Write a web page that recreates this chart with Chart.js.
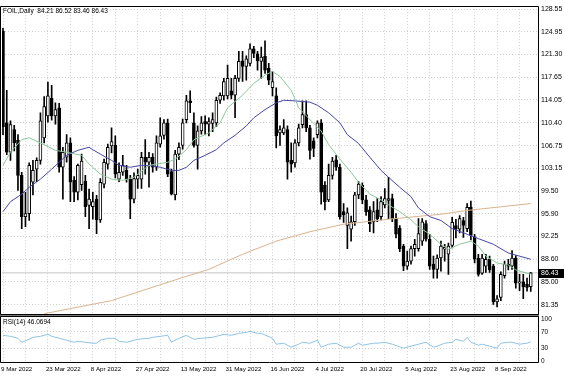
<!DOCTYPE html>
<html><head><meta charset="utf-8">
<script src="https://cdn.jsdelivr.net/npm/chart.js@4.4.1/dist/chart.umd.min.js"></script>
<style>html,body{margin:0;padding:0;background:#fff;overflow:hidden}canvas{display:block}</style>
</head><body>
<canvas id="c" width="564" height="376"></canvas>
<script>
const symbol = 'FOIL,Daily';
const opens = [125.0,110.4,105.7,109.3,107.6,102.0,95.4,95.9,100.9,103.0,104.4,108.0,111.5,114.3,111.5,112.8,103.3,104.9,107.2,101.2,
99.3,100.5,101.1,97.2,97.0,98.2,94.9,100.6,103.8,106.7,106.8,101.4,102.5,102.8,101.4,98.2,101.4,101.4,104.9,104.1,
104.9,103.3,107.0,108.4,110.4,102.6,98.9,105.4,106.8,110.9,113.9,110.4,106.8,109.1,110.6,110.2,110.3,110.4,114.0,114.7,
114.7,115.5,114.8,117.5,120.3,119.4,119.9,122.2,121.4,120.2,121.0,119.1,116.0,114.7,108.8,108.8,109.3,104.4,104.0,107.2,
110.1,111.7,109.6,107.5,108.5,110.4,100.4,98.1,102.0,104.5,103.3,96.2,94.0,93.4,94.6,98.9,100.4,98.1,96.5,94.6,
96.5,95.4,97.3,98.0,98.3,95.1,93.6,90.7,87.5,88.3,90.3,90.3,91.5,94.3,91.8,87.8,87.0,88.8,90.2,89.4,
90.8,94.0,93.4,94.8,93.5,96.9,92.2,88.8,86.4,87.5,88.6,87.5,81.8,82.5,86.0,87.8,87.5,88.8,84.8,85.0,
84.6,84.21];
const highs = [125.5,115.6,110.7,110.0,108.5,102.5,99.3,104.0,104.4,104.8,112.0,114.6,116.9,116.4,113.6,113.5,106.5,108.5,108.0,101.8,
103.8,105.4,102.0,99.8,99.3,98.8,101.5,104.6,107.0,109.6,108.3,104.0,105.2,103.6,102.0,102.4,103.0,105.7,107.7,105.7,
105.5,108.3,111.2,110.9,111.0,103.0,106.0,107.2,111.0,114.8,115.5,112.0,109.9,111.4,111.5,111.2,112.0,114.5,115.2,117.5,
119.6,117.5,118.0,121.8,121.8,121.1,123.0,122.6,121.8,122.5,123.5,119.9,118.6,116.0,109.9,110.9,109.9,107.2,107.7,110.2,
113.9,113.9,110.0,108.0,110.7,110.9,101.0,103.8,104.9,105.2,103.8,97.5,96.8,95.5,99.3,101.0,100.8,98.8,97.0,97.8,
98.3,98.6,99.9,101.7,99.0,95.9,94.0,91.0,89.9,90.7,91.8,95.1,95.1,94.8,92.6,89.1,89.3,91.5,91.0,91.2,
95.3,95.0,95.6,95.3,97.5,97.9,92.6,89.4,89.4,89.4,89.1,87.8,82.8,86.6,88.3,88.6,90.0,89.2,86.2,86.2,
85.6,86.52];
const lows = [108.5,105.3,104.4,105.9,99.6,93.5,93.8,94.8,98.9,101.0,103.8,107.2,110.5,110.8,110.2,102.5,98.2,104.1,97.8,97.8,
98.1,99.6,95.4,93.5,95.0,92.7,94.5,100.0,103.0,105.6,101.6,101.0,102.0,100.9,95.1,97.6,99.9,99.9,102.2,100.1,
102.5,102.8,106.5,107.8,101.8,98.9,98.1,104.5,106.2,110.4,112.0,106.5,103.0,108.6,108.5,108.3,109.0,109.8,113.5,114.0,
114.2,114.2,111.2,117.0,117.0,117.2,119.5,120.8,118.8,117.5,118.3,116.5,114.7,106.4,106.8,108.5,101.4,102.5,103.3,106.7,
109.6,109.0,104.6,105.0,108.0,97.4,96.5,97.8,101.4,102.8,95.0,94.5,90.3,91.5,94.0,98.3,97.5,95.6,93.0,92.8,
94.6,94.9,96.8,95.1,94.6,92.0,89.8,86.8,87.0,87.8,89.1,89.9,90.8,91.5,87.0,85.6,85.6,86.7,88.3,86.2,
90.4,92.0,92.8,92.1,93.0,91.7,88.0,85.9,86.2,86.5,86.5,81.4,81.0,82.0,85.6,86.9,87.0,84.0,83.6,82.3,
83.5,83.46];
const closes = [109.8,105.7,110.1,107.2,102.0,95.4,95.9,103.6,102.8,104.4,110.7,113.0,114.7,111.5,112.5,103.3,105.7,107.2,100.9,99.3,
103.6,104.3,97.0,98.2,97.8,94.9,100.9,104.1,106.5,107.4,102.2,102.5,103.6,101.4,98.2,101.5,102.0,104.9,104.1,104.9,
103.3,107.2,108.3,110.4,102.2,99.0,105.4,106.5,110.4,113.9,113.6,106.8,109.1,110.4,110.2,110.6,110.9,114.0,114.8,117.0,
117.5,114.8,117.5,120.2,119.4,120.6,122.2,121.5,120.3,120.9,118.8,117.2,117.0,108.3,109.3,109.6,104.1,103.8,107.2,109.6,
111.7,109.6,106.0,106.3,110.4,99.3,97.8,102.0,104.3,103.3,95.4,95.7,96.0,94.6,98.9,100.6,98.1,96.2,94.3,96.2,
95.1,97.8,98.3,98.3,95.1,92.6,90.3,87.5,88.3,90.3,91.0,92.7,94.6,91.8,87.5,87.0,88.8,90.7,90.5,90.7,
94.5,93.4,95.1,94.0,96.9,92.4,88.6,86.2,88.8,88.6,86.9,81.8,82.3,86.2,87.8,87.5,88.8,84.8,85.0,84.2,
84.1,86.43];

const dateLabels = ['9 Mar 2022','23 Mar 2022','8 Apr 2022','27 Apr 2022','13 May 2022','31 May 2022','16 Jun 2022','4 Jul 2022','20 Jul 2022','5 Aug 2022','23 Aug 2022','8 Sep 2022'];
const dateLabelBars = [0,12,24,36,48,60,72,84,96,108,120,132];
const gridBars = [0,6,12,18,24,30,36,42,48,54,60,66,72,78,84,90,96,102,108,114,120,126,132,138];
const priceTicks = [128.55,124.95,121.30,117.65,114.05,110.40,106.75,103.15,99.50,95.90,92.25,88.60,85.00,81.35];
const rsiTicks = [100,70,30,0];

const maFastBars = [0,2,5,7,11,14,17,21,23,26,29,32,35,39,41,44,46,49,51,55,58,60,64,67,70,72,74,77,79,82,85,87,90,93,95,98,101,103,106,109,111,114,117,119,122,125,127,129,132,135,137,141];
const maFastValues = [103.6,105.7,107.7,108.0,106.9,106.0,105.7,105.2,103.8,102.2,101.4,101.2,101.7,103.6,103.8,104.1,104.6,106.1,107.7,108.8,110.4,112.8,114.8,116.7,118.0,118.6,117.8,115.6,112.8,110.9,109.1,106.9,104.6,102.5,100.9,99.0,98.1,97.3,96.2,94.9,93.8,92.6,91.0,90.2,91.0,91.5,90.7,89.1,88.0,87.7,86.9,86.2];
const maMidBars = [0,2,5,7,10,13,15,17,20,23,24,26,29,31,34,37,39,42,45,47,49,51,54,57,59,62,65,67,70,73,75,78,82,84,87,90,92,95,98,101,103,106,109,111,114,117,120,124,127,131,135,138,141];
const maMidValues = [96.2,97.8,99.0,100.1,101.4,103.0,104.1,105.2,106.0,106.5,106.1,105.4,104.4,103.6,103.3,103.6,103.6,103.3,102.8,102.8,103.3,104.4,105.2,106.1,107.2,108.4,109.9,111.2,112.5,113.6,114.0,113.9,113.7,113.2,112.0,110.4,108.5,107.1,104.9,102.8,101.7,100.1,98.6,96.8,95.4,94.8,93.5,92.6,91.9,91.0,89.6,89.1,88.6];
const maSlowBars = [11,29,47,55,64,73,82,91,103,117,124,141];
const maSlowValues = [79.9,82.0,85.5,87.0,89.4,91.5,93.0,94.2,95.0,95.8,96.4,97.5];

const rsiBars = [0,2,4,5,7,8,10,12,13,15,16,17,19,20,22,24,25,26,28,30,31,33,35,36,39,40,42,44,45,47,49,51,53,56,59,61,63,65,66,68,69,72,73,75,77,79,80,82,84,85,87,89,91,93,95,96,99,100,102,104,107,109,112,113,115,116,118,120,121,123,124,125,127,128,130,132,133,135,136,138,140,141];
const rsiValues = [61.9,59.5,54.8,45.2,52.4,57.1,59.5,64.3,59.5,54.8,52.4,50.0,45.2,47.6,45.2,42.9,42.9,50.0,54.8,54.8,47.6,45.2,50.0,52.4,54.8,57.1,59.5,61.9,45.2,54.8,61.9,52.4,54.8,57.1,64.3,61.9,66.7,69.0,71.4,66.7,66.7,54.8,40.5,42.9,33.3,40.5,45.2,42.9,50.0,33.3,40.5,42.9,33.3,33.3,42.9,38.1,42.9,42.9,45.2,40.5,31.0,35.7,42.9,45.2,33.3,35.7,42.9,45.2,52.4,47.6,57.1,45.2,38.1,40.5,35.7,31.0,42.9,45.2,45.2,40.5,42.9,46.07];
const rsiLast = 46.0694;

const n = closes.length;
const last = n - 1;
const idx = closes.map((_, i) => i);
const pts = (bars, vals) => bars.map((b, k) => ({x: b, y: vals[k]}));
const FONT = "'Liberation Sans', Arial, sans-serif";

const decor = {
  id: 'decor',
  afterDraw(chart) {
    const ctx = chart.ctx, ys = chart.scales.y, rs = chart.scales.rsi, a = chart.chartArea;
    ctx.save();
    const R = a.right;
    const sep = Math.round(ys.bottom) - 1;
    ctx.fillStyle = '#7a7a7a';
    ctx.fillRect(0, sep, R, 3);
    ctx.strokeStyle = '#000'; ctx.lineWidth = 1;
    ctx.beginPath();
    ctx.moveTo(0.5, Math.round(ys.top) + 0.5); ctx.lineTo(R - 0.5, Math.round(ys.top) + 0.5);
    ctx.lineTo(R - 0.5, sep + 0.5); ctx.lineTo(0.5, sep + 0.5); ctx.closePath();
    ctx.stroke();
    ctx.beginPath();
    ctx.moveTo(0.5, sep + 2.5); ctx.lineTo(R - 0.5, sep + 2.5);
    ctx.lineTo(R - 0.5, Math.round(rs.bottom) - 0.5); ctx.lineTo(0.5, Math.round(rs.bottom) - 0.5); ctx.closePath();
    ctx.stroke();
    ctx.fillStyle = '#000';
    ctx.textBaseline = 'top'; ctx.textAlign = 'left';
    ctx.font = '6.5px ' + FONT;
    ctx.fillText(symbol + '  ' + opens[last].toFixed(2) + ' ' + highs[last].toFixed(2) + ' ' + lows[last].toFixed(2) + ' ' + closes[last].toFixed(2), 3, ys.top + 2);
    ctx.fillText('RSI(14) ' + rsiLast.toFixed(4), 3, sep + 5);
    const yp = ys.getPixelForValue(closes[last]);
    ctx.fillStyle = '#000';
    ctx.fillRect(R - 1, Math.round(yp) - 4, 26, 9);
    ctx.fillStyle = '#fff';
    ctx.textBaseline = 'middle';
    ctx.font = '7px ' + FONT;
    ctx.fillText(closes[last].toFixed(2), R + 2, yp + 0.5);
    ctx.restore();
  }
};

new Chart(document.getElementById('c'), {
  type: 'bar',
  data: {
    datasets: [
      {type: 'line', label: 'bid', data: [{x: -1, y: closes[last]}, {x: 150, y: closes[last]}], borderColor: '#c4c4c4', borderWidth: 1, pointRadius: 0, order: 6, yAxisID: 'y'},
      {label: 'wick', data: idx.map(i => ({x: i, y: [lows[i], highs[i]]})), backgroundColor: '#000', borderWidth: 0, barThickness: 1, grouped: false, order: 5, yAxisID: 'y'},
      {label: 'body', data: idx.map(i => ({x: i, y: [opens[i], closes[i]]})),
        backgroundColor: c => closes[c.dataIndex] >= opens[c.dataIndex] ? '#ffffff' : '#000000',
        borderColor: '#000', borderWidth: 1, borderSkipped: false, barThickness: 3, grouped: false, order: 4, yAxisID: 'y'},
      {type: 'line', label: 'ma200', data: pts(maSlowBars, maSlowValues), borderColor: '#d9b48f', borderWidth: 1, pointRadius: 0, order: 3, yAxisID: 'y'},
      {type: 'line', label: 'ma20', data: pts(maMidBars, maMidValues), borderColor: '#4646a8', borderWidth: 1, pointRadius: 0, order: 2, yAxisID: 'y'},
      {type: 'line', label: 'ma10', data: pts(maFastBars, maFastValues), borderColor: '#8cc79c', borderWidth: 1, pointRadius: 0, order: 1, yAxisID: 'y'},
      {type: 'line', label: 'rsi', data: pts(rsiBars, rsiValues), borderColor: '#8ec3e6', borderWidth: 1, pointRadius: 0, order: 0, yAxisID: 'rsi'}
    ]
  },
  options: {
    responsive: false, animation: false, devicePixelRatio: 1,
    layout: {padding: {left: 1, top: 2, right: 0, bottom: 0}},
    plugins: {legend: {display: false}, tooltip: {enabled: false}},
    scales: {
      x: {
        type: 'linear', min: -0.267, max: 143.2, offset: false,
        grid: {offset: false, color: '#cfcfcf', drawTicks: false, lineWidth: 1},
        border: {display: false, dash: [1, 2]},
        afterBuildTicks: s => { s.ticks = gridBars.map(v => ({value: v})); },
        afterFit: s => { s.height = 13; },
        ticks: {autoSkip: false, maxRotation: 0, minRotation: 0, align: 'start', labelOffset: -2, padding: 3, color: '#000',
          font: {family: FONT, size: 6.2},
          callback: v => { const k = dateLabelBars.indexOf(v); return k >= 0 ? dateLabels[k] : ''; }}
      },
      y: {
        type: 'linear', position: 'right', stack: 'panels', stackWeight: 312.5, weight: 0,
        min: 79.69, max: 129.024,
        grid: {color: '#cfcfcf', drawTicks: false, lineWidth: 1},
        border: {display: false, dash: [1, 2]},
        afterBuildTicks: s => { s.ticks = priceTicks.map(v => ({value: v})); },
        afterFit: s => { s.width = 25; },
        ticks: {autoSkip: false, padding: 2, color: '#000', font: {family: FONT, size: 7}, callback: v => Number(v).toFixed(2)}
      },
      rsi: {
        type: 'linear', position: 'right', stack: 'panels', stackWeight: 48.5, weight: 1,
        min: -4.76, max: 110.7,
        grid: {color: c => (c.tick && (c.tick.value === 70 || c.tick.value === 30)) ? '#cfcfcf' : 'rgba(0,0,0,0)', drawTicks: false, lineWidth: 1},
        border: {display: false, dash: [1, 2]},
        afterBuildTicks: s => { s.ticks = rsiTicks.map(v => ({value: v})); },
        afterFit: s => { s.width = 25; },
        ticks: {autoSkip: false, padding: 2, color: '#000', font: {family: FONT, size: 6.5}, callback: v => String(v)}
      }
    }
  },
  plugins: [decor]
});
</script>
</body></html>
